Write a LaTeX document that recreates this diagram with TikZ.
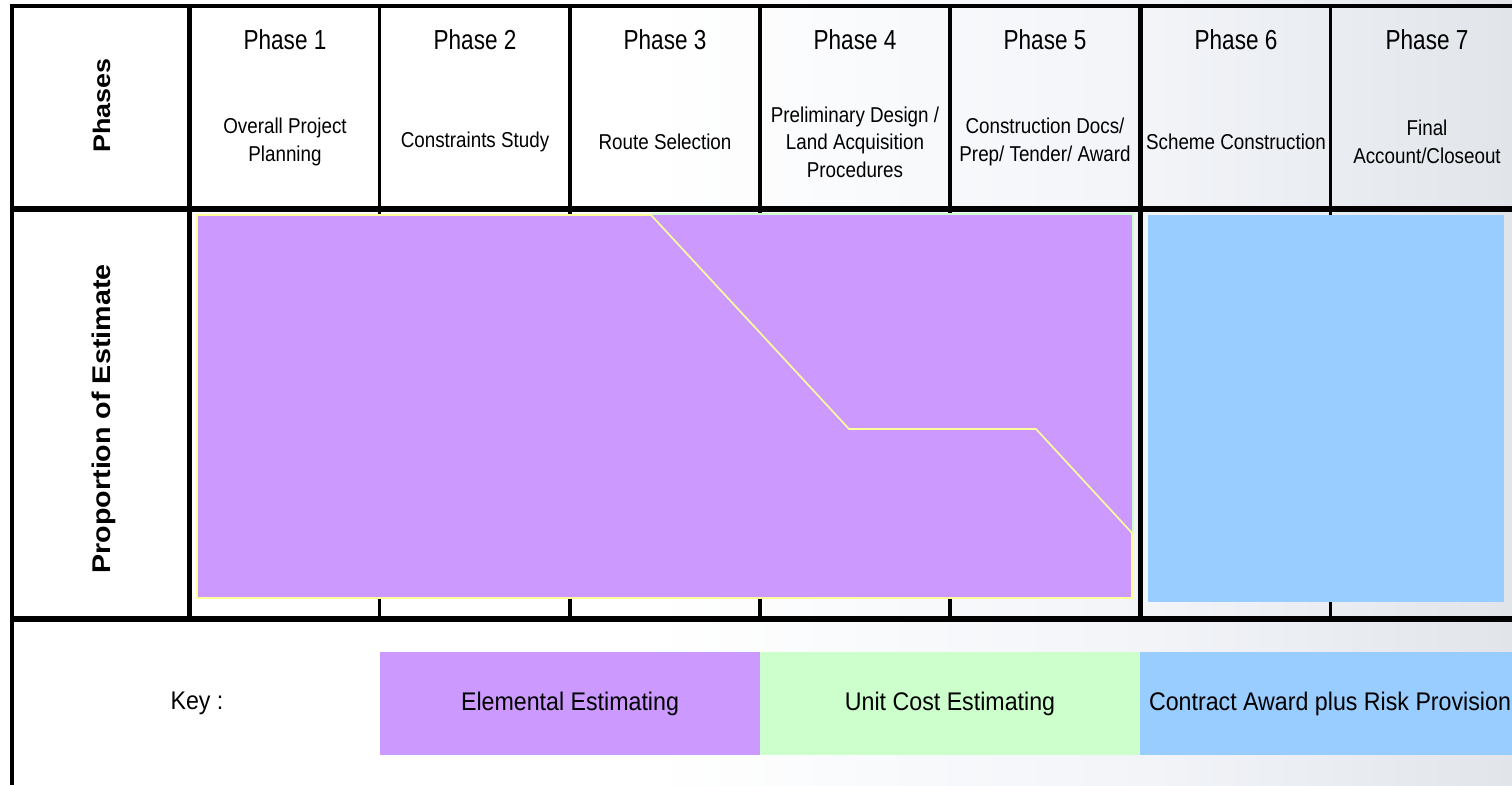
\documentclass[tikz,border=0pt]{standalone}
\usepackage{fontspec}
\setmainfont{Liberation Sans}
\newfontfamily\phasefont{Liberation Sans}[FakeStretch=0.82]
\newfontfamily\subfont{Liberation Sans}[FakeStretch=0.875]
\newfontfamily\keyfont{Liberation Sans}[FakeStretch=0.91]
\newfontfamily\sidefont{Liberation Sans}[FakeStretch=1.12]
\usetikzlibrary{positioning}
\definecolor{elem}{HTML}{CC99FF}
\definecolor{unitc}{HTML}{CCFFCC}
\definecolor{contr}{HTML}{99CCFF}
\definecolor{edgey}{HTML}{FFFF99}
\definecolor{bgr}{HTML}{E1E5EA}
\definecolor{bgm}{HTML}{F2F4F8}
\begin{document}
\begin{tikzpicture}[x=1pt,y=-1pt,
 phase/.style={font=\phasefont\fontsize{27.5}{30}\selectfont, anchor=base, inner sep=0pt},
 sub/.style={font=\subfont\fontsize{21.5}{27.5}\selectfont, align=center, inner sep=0pt},
 side/.style={font=\sidefont\bfseries\fontsize{#1}{28}\selectfont, rotate=90, anchor=base, inner sep=0pt},
 keybox/.style={font=\keyfont\fontsize{25.5}{28}\selectfont, minimum width=380pt, minimum height=103pt, inner sep=0pt, draw=none, fill=#1},
 keylabel/.style={font=\keyfont\fontsize{25.5}{28}\selectfont, inner sep=0pt},
 frameline/.style={line width=5.5pt},
 colthick/.style={line width=4.4pt},
 colthin/.style={line width=3.3pt},
 outline/.style={draw=edgey, line width=1.6pt, line join=miter},
]
\useasboundingbox (0,0) rectangle (1512,785);
% background
\fill[white] (0,0) rectangle (1512,785);
\shade[left color=white, right color=bgm] (650,0) rectangle (1150,785);
\shade[left color=bgm, right color=bgr] (1150,0) rectangle (1512,785);
% column lines (behind the chart areas)
\draw[colthick] (189.5,5) -- (189.5,620);
\draw[colthick] (1140.5,5) -- (1140.5,620);
\foreach \x in {379.5,570,760,950,1330.5}
  \draw[colthin] (\x,5) -- (\x,620);
% chart area: unit cost (behind) and elemental estimating
\fill[unitc] (651,213.3) rectangle (1133.8,533);
\fill[elem] (197,215) rectangle (1132,598);
\draw[outline] (197,215) -- (651,215) -- (849,429) -- (1036,429) -- (1132,533) -- (1132,598) -- (197,598) -- cycle;
% contract award area
\fill[contr] (1148,215) rectangle (1503.5,602);
% frame lines
\draw[line width=4pt] (10,5.5) -- (1512,5.5);
\draw[line width=4.5pt] (12,3.5) -- (12,785);
\draw[frameline] (12,208.8) -- (1512,208.8);
\draw[frameline] (12,619) -- (1512,619);
% side labels
\node[side=24] (lphases) at (110,105.5) {Phases};
\node[side=25.6] (lprop) at (110,419) {Proportion of Estimate};
% phase headers
\node[phase] (p1) at (285,49) {Phase 1};
\node[phase] (p2) at (475,49) {Phase 2};
\node[phase] (p3) at (665,49) {Phase 3};
\node[phase] (p4) at (855,49) {Phase 4};
\node[phase] (p5) at (1045,49) {Phase 5};
\node[phase] (p6) at (1236,49) {Phase 6};
\node[phase] (p7) at (1427,49) {Phase 7};
% phase descriptions
\node[sub] (s1) at (285,142) {Overall Project\\Planning};
\node[sub] (s2) at (475,142) {Constraints Study};
\node[sub] (s3) at (665,142) {Route Selection};
\node[sub] (s4) at (855,142) {Preliminary Design /\\Land Acquisition\\Procedures};
\node[sub] (s5) at (1045,142) {Construction Docs/\\Prep/ Tender/ Award};
\node[sub] (s6) at (1236,142) {Scheme Construction};
\node[sub] (s7) at (1427,142) {Final\\Account/Closeout};
% key
\node[keylabel] (key) at (197,703.5) {Key :};
\node[keybox=elem] (kelem) at (570,703.5) {Elemental Estimating};
\node[keybox=unitc] (kunit) at (950,703.5) {Unit Cost Estimating};
\node[keybox=contr] (kcontr) at (1330,703.5) {Contract Award plus Risk Provision};
\end{tikzpicture}
\end{document}
